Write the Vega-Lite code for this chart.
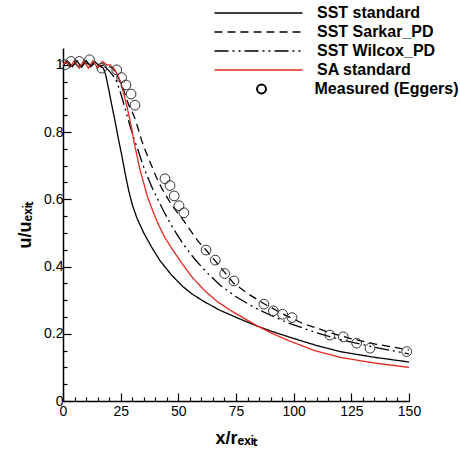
{
  "$schema": "https://vega.github.io/schema/vega-lite/v6.json",
  "autosize": {"type": "none"},
  "width": 346,
  "height": 353,
  "padding": {"left": 63, "top": 48, "right": 51, "bottom": 54},
  "background": "white",
  "config": {"view": {"stroke": null}, "font": "Liberation Sans"},
  "datasets": {
    "lines": [
      {"series": "SST standard", "x": 0, "u": 1.0},
      {"series": "SST standard", "x": 2, "u": 1.01},
      {"series": "SST standard", "x": 4, "u": 0.995},
      {"series": "SST standard", "x": 6, "u": 1.012},
      {"series": "SST standard", "x": 8, "u": 0.993},
      {"series": "SST standard", "x": 10, "u": 1.012},
      {"series": "SST standard", "x": 12, "u": 0.995},
      {"series": "SST standard", "x": 14, "u": 1.008},
      {"series": "SST standard", "x": 16, "u": 0.996},
      {"series": "SST standard", "x": 17.5, "u": 0.99},
      {"series": "SST standard", "x": 18.5, "u": 0.97},
      {"series": "SST standard", "x": 19.6, "u": 0.935},
      {"series": "SST standard", "x": 21, "u": 0.885},
      {"series": "SST standard", "x": 22.5, "u": 0.835},
      {"series": "SST standard", "x": 24, "u": 0.78},
      {"series": "SST standard", "x": 25.5, "u": 0.73},
      {"series": "SST standard", "x": 27, "u": 0.675},
      {"series": "SST standard", "x": 28.5, "u": 0.625},
      {"series": "SST standard", "x": 30, "u": 0.585},
      {"series": "SST standard", "x": 32, "u": 0.545},
      {"series": "SST standard", "x": 35, "u": 0.5},
      {"series": "SST standard", "x": 38.4, "u": 0.458},
      {"series": "SST standard", "x": 42, "u": 0.418},
      {"series": "SST standard", "x": 47, "u": 0.375},
      {"series": "SST standard", "x": 52, "u": 0.34},
      {"series": "SST standard", "x": 56, "u": 0.318},
      {"series": "SST standard", "x": 61.6, "u": 0.294},
      {"series": "SST standard", "x": 68, "u": 0.27},
      {"series": "SST standard", "x": 76, "u": 0.246},
      {"series": "SST standard", "x": 83, "u": 0.226},
      {"series": "SST standard", "x": 90.5, "u": 0.207},
      {"series": "SST standard", "x": 100, "u": 0.186},
      {"series": "SST standard", "x": 110, "u": 0.165},
      {"series": "SST standard", "x": 120, "u": 0.147},
      {"series": "SST standard", "x": 135, "u": 0.13},
      {"series": "SST standard", "x": 150, "u": 0.116},

      {"series": "SST Sarkar_PD", "x": 0, "u": 1.0},
      {"series": "SST Sarkar_PD", "x": 2, "u": 1.01},
      {"series": "SST Sarkar_PD", "x": 4, "u": 0.995},
      {"series": "SST Sarkar_PD", "x": 6, "u": 1.012},
      {"series": "SST Sarkar_PD", "x": 8, "u": 0.993},
      {"series": "SST Sarkar_PD", "x": 10, "u": 1.012},
      {"series": "SST Sarkar_PD", "x": 12, "u": 0.995},
      {"series": "SST Sarkar_PD", "x": 14, "u": 1.008},
      {"series": "SST Sarkar_PD", "x": 16, "u": 0.996},
      {"series": "SST Sarkar_PD", "x": 18, "u": 1.0},
      {"series": "SST Sarkar_PD", "x": 20, "u": 0.995},
      {"series": "SST Sarkar_PD", "x": 21.5, "u": 0.99},
      {"series": "SST Sarkar_PD", "x": 23, "u": 0.975},
      {"series": "SST Sarkar_PD", "x": 24.5, "u": 0.955},
      {"series": "SST Sarkar_PD", "x": 26, "u": 0.93},
      {"series": "SST Sarkar_PD", "x": 27.3, "u": 0.905},
      {"series": "SST Sarkar_PD", "x": 28.5, "u": 0.88},
      {"series": "SST Sarkar_PD", "x": 30, "u": 0.86},
      {"series": "SST Sarkar_PD", "x": 31.2, "u": 0.84},
      {"series": "SST Sarkar_PD", "x": 32.6, "u": 0.81},
      {"series": "SST Sarkar_PD", "x": 34.1, "u": 0.775},
      {"series": "SST Sarkar_PD", "x": 36, "u": 0.74},
      {"series": "SST Sarkar_PD", "x": 38.4, "u": 0.7},
      {"series": "SST Sarkar_PD", "x": 40.5, "u": 0.665},
      {"series": "SST Sarkar_PD", "x": 42.8, "u": 0.633},
      {"series": "SST Sarkar_PD", "x": 45, "u": 0.607},
      {"series": "SST Sarkar_PD", "x": 47.1, "u": 0.583},
      {"series": "SST Sarkar_PD", "x": 49.3, "u": 0.563},
      {"series": "SST Sarkar_PD", "x": 51.5, "u": 0.544},
      {"series": "SST Sarkar_PD", "x": 53.6, "u": 0.524},
      {"series": "SST Sarkar_PD", "x": 56, "u": 0.5},
      {"series": "SST Sarkar_PD", "x": 58.7, "u": 0.474},
      {"series": "SST Sarkar_PD", "x": 62, "u": 0.449},
      {"series": "SST Sarkar_PD", "x": 65, "u": 0.425},
      {"series": "SST Sarkar_PD", "x": 68, "u": 0.4},
      {"series": "SST Sarkar_PD", "x": 71, "u": 0.375},
      {"series": "SST Sarkar_PD", "x": 74, "u": 0.35},
      {"series": "SST Sarkar_PD", "x": 80, "u": 0.32},
      {"series": "SST Sarkar_PD", "x": 87, "u": 0.29},
      {"series": "SST Sarkar_PD", "x": 95, "u": 0.26},
      {"series": "SST Sarkar_PD", "x": 103.5, "u": 0.232},
      {"series": "SST Sarkar_PD", "x": 115, "u": 0.205},
      {"series": "SST Sarkar_PD", "x": 125, "u": 0.185},
      {"series": "SST Sarkar_PD", "x": 135, "u": 0.17},
      {"series": "SST Sarkar_PD", "x": 150, "u": 0.152},

      {"series": "SST Wilcox_PD", "x": 0, "u": 1.0},
      {"series": "SST Wilcox_PD", "x": 2, "u": 1.01},
      {"series": "SST Wilcox_PD", "x": 4, "u": 0.995},
      {"series": "SST Wilcox_PD", "x": 6, "u": 1.012},
      {"series": "SST Wilcox_PD", "x": 8, "u": 0.993},
      {"series": "SST Wilcox_PD", "x": 10, "u": 1.012},
      {"series": "SST Wilcox_PD", "x": 12, "u": 0.995},
      {"series": "SST Wilcox_PD", "x": 14, "u": 1.008},
      {"series": "SST Wilcox_PD", "x": 16, "u": 0.996},
      {"series": "SST Wilcox_PD", "x": 18, "u": 0.995},
      {"series": "SST Wilcox_PD", "x": 19.6, "u": 0.985},
      {"series": "SST Wilcox_PD", "x": 21.5, "u": 0.97},
      {"series": "SST Wilcox_PD", "x": 23.3, "u": 0.95},
      {"series": "SST Wilcox_PD", "x": 24.8, "u": 0.92},
      {"series": "SST Wilcox_PD", "x": 26.1, "u": 0.89},
      {"series": "SST Wilcox_PD", "x": 27.5, "u": 0.855},
      {"series": "SST Wilcox_PD", "x": 29, "u": 0.82},
      {"series": "SST Wilcox_PD", "x": 30.8, "u": 0.78},
      {"series": "SST Wilcox_PD", "x": 32.6, "u": 0.745},
      {"series": "SST Wilcox_PD", "x": 34.5, "u": 0.705},
      {"series": "SST Wilcox_PD", "x": 36.3, "u": 0.672},
      {"series": "SST Wilcox_PD", "x": 38.8, "u": 0.632},
      {"series": "SST Wilcox_PD", "x": 41.3, "u": 0.597},
      {"series": "SST Wilcox_PD", "x": 44, "u": 0.56},
      {"series": "SST Wilcox_PD", "x": 46.4, "u": 0.53},
      {"series": "SST Wilcox_PD", "x": 49, "u": 0.5},
      {"series": "SST Wilcox_PD", "x": 52, "u": 0.468},
      {"series": "SST Wilcox_PD", "x": 55, "u": 0.44},
      {"series": "SST Wilcox_PD", "x": 58, "u": 0.415},
      {"series": "SST Wilcox_PD", "x": 62, "u": 0.385},
      {"series": "SST Wilcox_PD", "x": 68, "u": 0.345},
      {"series": "SST Wilcox_PD", "x": 75, "u": 0.31},
      {"series": "SST Wilcox_PD", "x": 83, "u": 0.278},
      {"series": "SST Wilcox_PD", "x": 90, "u": 0.255},
      {"series": "SST Wilcox_PD", "x": 97.7, "u": 0.232},
      {"series": "SST Wilcox_PD", "x": 109, "u": 0.205},
      {"series": "SST Wilcox_PD", "x": 120, "u": 0.183},
      {"series": "SST Wilcox_PD", "x": 135, "u": 0.16},
      {"series": "SST Wilcox_PD", "x": 150, "u": 0.14},

      {"series": "SA standard", "x": 0, "u": 1.0},
      {"series": "SA standard", "x": 1.5, "u": 1.012},
      {"series": "SA standard", "x": 3, "u": 0.992},
      {"series": "SA standard", "x": 5, "u": 1.012},
      {"series": "SA standard", "x": 7, "u": 0.99},
      {"series": "SA standard", "x": 9, "u": 1.012},
      {"series": "SA standard", "x": 11, "u": 0.99},
      {"series": "SA standard", "x": 13, "u": 1.012},
      {"series": "SA standard", "x": 15, "u": 0.99},
      {"series": "SA standard", "x": 17, "u": 1.01},
      {"series": "SA standard", "x": 19, "u": 1.0},
      {"series": "SA standard", "x": 20.5, "u": 1.0},
      {"series": "SA standard", "x": 22.5, "u": 0.985},
      {"series": "SA standard", "x": 24, "u": 0.965},
      {"series": "SA standard", "x": 25.4, "u": 0.94},
      {"series": "SA standard", "x": 26.5, "u": 0.91},
      {"series": "SA standard", "x": 27.6, "u": 0.88},
      {"series": "SA standard", "x": 28.7, "u": 0.845},
      {"series": "SA standard", "x": 29.8, "u": 0.81},
      {"series": "SA standard", "x": 30.8, "u": 0.77},
      {"series": "SA standard", "x": 31.9, "u": 0.735},
      {"series": "SA standard", "x": 33.3, "u": 0.69},
      {"series": "SA standard", "x": 34.8, "u": 0.653},
      {"series": "SA standard", "x": 36.5, "u": 0.61},
      {"series": "SA standard", "x": 38.4, "u": 0.575},
      {"series": "SA standard", "x": 41, "u": 0.53},
      {"series": "SA standard", "x": 44.2, "u": 0.486},
      {"series": "SA standard", "x": 47.5, "u": 0.45},
      {"series": "SA standard", "x": 51.5, "u": 0.41},
      {"series": "SA standard", "x": 56, "u": 0.368},
      {"series": "SA standard", "x": 61.6, "u": 0.327},
      {"series": "SA standard", "x": 67, "u": 0.295},
      {"series": "SA standard", "x": 73, "u": 0.268},
      {"series": "SA standard", "x": 78, "u": 0.248},
      {"series": "SA standard", "x": 83, "u": 0.228},
      {"series": "SA standard", "x": 90, "u": 0.203},
      {"series": "SA standard", "x": 97.7, "u": 0.18},
      {"series": "SA standard", "x": 109, "u": 0.15},
      {"series": "SA standard", "x": 120, "u": 0.13},
      {"series": "SA standard", "x": 135, "u": 0.113},
      {"series": "SA standard", "x": 150, "u": 0.1}
    ],
    "measured": [
      {"label": "Measured (Eggers)", "x": 0.8, "u": 1.0},
      {"label": "Measured (Eggers)", "x": 3.5, "u": 1.01},
      {"label": "Measured (Eggers)", "x": 7, "u": 1.01},
      {"label": "Measured (Eggers)", "x": 11.5, "u": 1.015},
      {"label": "Measured (Eggers)", "x": 16.8, "u": 0.99},
      {"label": "Measured (Eggers)", "x": 23.3, "u": 0.985},
      {"label": "Measured (Eggers)", "x": 25.4, "u": 0.962},
      {"label": "Measured (Eggers)", "x": 27.3, "u": 0.94},
      {"label": "Measured (Eggers)", "x": 29.5, "u": 0.913},
      {"label": "Measured (Eggers)", "x": 31.2, "u": 0.88},
      {"label": "Measured (Eggers)", "x": 44.2, "u": 0.661},
      {"label": "Measured (Eggers)", "x": 46.4, "u": 0.641},
      {"label": "Measured (Eggers)", "x": 48.2, "u": 0.61},
      {"label": "Measured (Eggers)", "x": 50.3, "u": 0.581},
      {"label": "Measured (Eggers)", "x": 52.4, "u": 0.56},
      {"label": "Measured (Eggers)", "x": 62, "u": 0.449},
      {"label": "Measured (Eggers)", "x": 66, "u": 0.419},
      {"label": "Measured (Eggers)", "x": 70.1, "u": 0.379},
      {"label": "Measured (Eggers)", "x": 74.1, "u": 0.357},
      {"label": "Measured (Eggers)", "x": 87.1, "u": 0.288},
      {"label": "Measured (Eggers)", "x": 91.2, "u": 0.268},
      {"label": "Measured (Eggers)", "x": 95.2, "u": 0.258},
      {"label": "Measured (Eggers)", "x": 99.3, "u": 0.248},
      {"label": "Measured (Eggers)", "x": 115.7, "u": 0.196},
      {"label": "Measured (Eggers)", "x": 121.5, "u": 0.191},
      {"label": "Measured (Eggers)", "x": 127.3, "u": 0.172},
      {"label": "Measured (Eggers)", "x": 133.1, "u": 0.157},
      {"label": "Measured (Eggers)", "x": 149, "u": 0.147}
    ]
  },
  "encoding": {
    "x": {
      "field": "x", "type": "quantitative",
      "scale": {"domain": [0, 150], "nice": false, "zero": false},
      "axis": {
        "title": "x/rₑₓᵢₜ",
        "values": [0,5,10,15,20,25,30,35,40,45,50,55,60,65,70,75,80,85,90,95,100,105,110,115,120,125,130,135,140,145,150],
        "labelExpr": "datum.value % 25 === 0 ? datum.label : ''",
        "grid": false,
        "domainColor": "black", "domainWidth": 1.5,
        "tickColor": "black", "tickWidth": 1.2,
        "tickSize": {"condition": {"test": "datum.value % 25 === 0", "value": -8}, "value": -4},
        "labelPadding": 11, "labelFontSize": 14, "labelColor": "black", "labelFont": "Liberation Sans",
        "labelFlush": false, "labelOverlap": false,
        "titleFont": "Liberation Sans", "titleFontSize": 18, "titleFontWeight": "bold", "titleColor": "black", "titlePadding": 7
      }
    },
    "y": {
      "field": "u", "type": "quantitative",
      "scale": {"domain": [0, 1.05], "nice": false},
      "axis": {
        "title": "u/uₑₓᵢₜ",
        "values": [0,0.05,0.1,0.15,0.2,0.25,0.3,0.35,0.4,0.45,0.5,0.55,0.6,0.65,0.7,0.75,0.8,0.85,0.9,0.95,1.0],
        "labelExpr": "abs(datum.value*5 - round(datum.value*5)) < 0.001 ? format(datum.value, '.1~f') : ''",
        "grid": false,
        "domainColor": "black", "domainWidth": 1.5,
        "tickColor": "black", "tickWidth": 1.2,
        "tickSize": {"condition": {"test": "abs(datum.value*5 - round(datum.value*5)) < 0.001", "value": -8}, "value": -4},
        "labelPadding": 8, "labelFontSize": 14, "labelColor": "black", "labelFont": "Liberation Sans",
        "labelFlush": false, "labelOverlap": false,
        "titleFont": "Liberation Sans", "titleFontSize": 18, "titleFontWeight": "bold", "titleColor": "black", "titlePadding": 9
      }
    }
  },
  "layer": [
    {
      "data": {"name": "lines"},
      "mark": {"type": "line", "strokeWidth": 1.3, "clip": true},
      "encoding": {
        "color": {
          "field": "series", "type": "nominal",
          "scale": {"domain": ["SST standard", "SST Sarkar_PD", "SST Wilcox_PD", "SA standard"], "range": ["black", "black", "black", "#e8281e"]},
          "legend": {
            "title": null, "orient": "none", "legendX": 187.5, "legendY": -43,
            "symbolType": "M-8,0H8", "symbolSize": 121, "symbolStrokeWidth": 1.6,
            "labelFont": "Liberation Sans", "labelFontSize": 16, "labelFontWeight": "bold", "labelColor": "black",
            "labelOffset": 50.5, "rowPadding": 3, "padding": 0, "labelLimit": 300
          }
        },
        "strokeDash": {
          "field": "series", "type": "nominal",
          "scale": {"domain": ["SST standard", "SST Sarkar_PD", "SST Wilcox_PD", "SA standard"], "range": [[1, 0], [8, 5], [14, 4, 2, 4, 2, 4], [1, 0]]},
          "legend": {
            "title": null, "orient": "none", "legendX": 187.5, "legendY": -43,
            "symbolType": "M-8,0H8", "symbolSize": 121, "symbolStrokeWidth": 1.6,
            "labelFont": "Liberation Sans", "labelFontSize": 16, "labelFontWeight": "bold", "labelColor": "black",
            "labelOffset": 50.5, "rowPadding": 3, "padding": 0, "labelLimit": 300
          }
        }
      }
    },
    {
      "data": {"name": "measured"},
      "mark": {"type": "point", "filled": false, "size": 95, "strokeWidth": 1, "color": "#333333", "opacity": 1},
      "encoding": {
        "shape": {
          "field": "label", "type": "nominal",
          "scale": {"range": ["circle"]},
          "legend": {
            "title": null, "orient": "none", "legendX": 190.5, "legendY": 33,
            "symbolSize": 80, "symbolStrokeWidth": 2, "symbolStrokeColor": "black", "symbolFillColor": "transparent",
            "labelFont": "Liberation Sans", "labelFontSize": 16, "labelFontWeight": "bold", "labelColor": "black",
            "labelOffset": 45, "padding": 0, "labelLimit": 300
          }
        }
      }
    }
  ]
}
